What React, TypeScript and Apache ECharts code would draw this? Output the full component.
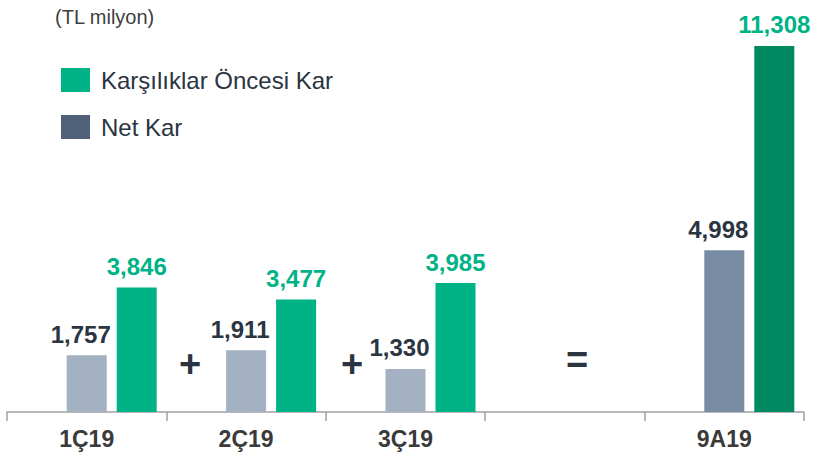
import React, { useEffect, useRef } from "react";
import * as echarts from "echarts";

const categories = ["1Ç19", "2Ç19", "3Ç19", "", "9A19"];
const netKar = [1757, 1911, 1330, null, 4998];
const karsiliklarOncesiKar = [3846, 3477, 3985, null, 11308];
const netKarColors = ["#A3B1C2", "#A3B1C2", "#A3B1C2", "#A3B1C2", "#778BA3"];
const kokColors = ["#00B386", "#00B386", "#00B386", "#00B386", "#008861"];
const operators = [
  { text: "+", x: 190, y: 364 },
  { text: "+", x: 352, y: 364 },
  { text: "=", x: 577, y: 360 },
];

const FONT = "'Liberation Sans', Arial, sans-serif";
const fmt = (v: number) => v.toLocaleString("en-US");

export default function App() {
  const ref = useRef<HTMLDivElement>(null);
  useEffect(() => {
    document.body.style.margin = "0";
    if (!ref.current) return;
    const chart = echarts.init(ref.current, undefined, { renderer: "svg" });
    chart.setOption({
      animation: false,
      backgroundColor: "#ffffff",
      grid: { left: 7, right: 14, top: 23.6, bottom: 47 },
      legend: {
        data: ["Karşılıklar Öncesi Kar", "Net Kar"],
        orient: "vertical",
        left: 56,
        top: 63,
        itemWidth: 29,
        itemHeight: 24,
        itemGap: 23,
        icon: "rect",
        textStyle: {
          fontFamily: FONT,
          fontSize: 24,
          color: "#2B3441",
          padding: [0, 0, 0, 6],
        },
      },
      graphic: [
        {
          type: "text",
          left: 55,
          top: 7,
          style: { text: "(TL milyon)", fontFamily: FONT, fontSize: 20, fill: "#404040" },
        },
        ...operators.map((o) => ({
          type: "text",
          x: o.x,
          y: o.y,
          style: {
            text: o.text,
            fontFamily: FONT,
            fontSize: 38,
            fontWeight: "bold",
            fill: "#2B3441",
            textAlign: "center",
            textVerticalAlign: "middle",
          },
        })),
      ],
      xAxis: {
        type: "category",
        data: categories,
        axisLine: { show: true, lineStyle: { color: "#A0A0A0", width: 1.5 } },
        axisTick: { show: true, length: 9, lineStyle: { color: "#A0A0A0", width: 1.5 } },
        axisLabel: {
          margin: 15,
          fontFamily: FONT,
          fontSize: 23,
          fontWeight: "bold",
          color: "#3A3A3A",
        },
      },
      yAxis: { type: "value", min: 0, max: 12000, show: false, splitLine: { show: false } },
      series: [
        {
          name: "_pad",
          type: "bar",
          data: categories.map(() => null),
          barWidth: 40,
          barGap: "25%",
          silent: true,
        },
        {
          name: "Net Kar",
          type: "bar",
          barWidth: 40,
          barGap: "25%",
          itemStyle: { color: "#4F6079" },
          data: netKar.map((v, i) => ({ value: v, itemStyle: { color: netKarColors[i] } })),
          label: {
            show: true,
            position: "top",
            distance: 9,
            offset: [-6, 0],
            formatter: (p: any) => fmt(p.value),
            fontFamily: FONT,
            fontSize: 24,
            fontWeight: "bold",
            color: "#2B3441",
          },
        },
        {
          name: "Karşılıklar Öncesi Kar",
          type: "bar",
          barWidth: 40,
          barGap: "25%",
          itemStyle: { color: "#00B386" },
          data: karsiliklarOncesiKar.map((v, i) => ({ value: v, itemStyle: { color: kokColors[i] } })),
          label: {
            show: true,
            position: "top",
            distance: 9,
            formatter: (p: any) => fmt(p.value),
            fontFamily: FONT,
            fontSize: 24,
            fontWeight: "bold",
            color: "#00B386",
          },
        },
      ],
    });
    return () => chart.dispose();
  }, []);
  return <div ref={ref} style={{ width: 818, height: 459 }} />;
}
